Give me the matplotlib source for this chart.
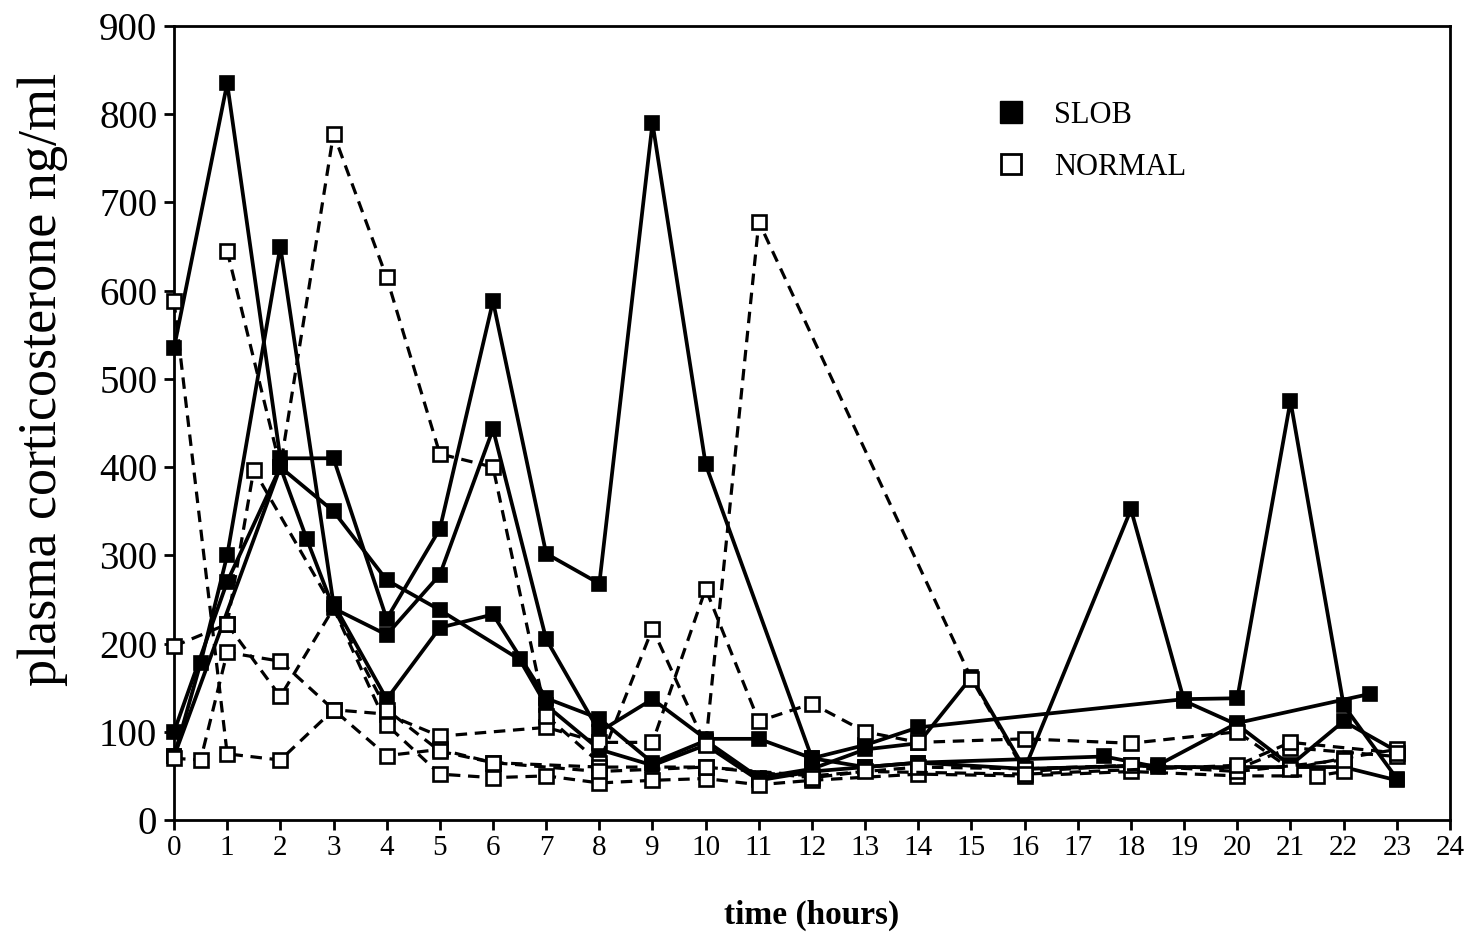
import matplotlib
matplotlib.use("Agg")
import matplotlib.pyplot as plt
from matplotlib.lines import Line2D

plt.rcParams['font.family'] = ['Liberation Serif', 'DejaVu Serif']

# SLOB rats (solid lines, filled squares)
slob1_t = [0, 1, 2, 3, 4, 5, 6, 7, 8, 9, 10, 12, 13, 14, 19, 20, 21, 22, 23]
slob1_v = [535, 835, 410, 410, 228, 330, 588, 302, 268, 790, 403, 70, 85, 105, 137, 138, 475, 130, 47]

slob2_t = [0, 1, 2, 3, 4, 5, 6.5, 7, 8, 9, 10, 11, 12, 13, 14, 16, 18.5, 20, 22.5]
slob2_v = [100, 270, 400, 350, 272, 238, 182, 130, 80, 62, 85, 45, 55, 60, 65, 58, 62, 110, 143]

slob3_t = [0, 0.5, 1, 2, 3, 4, 5, 6, 7, 8, 9, 10, 11, 12, 13, 14, 15, 16, 18, 19, 20, 21, 22, 23]
slob3_v = [72, 178, 300, 650, 245, 137, 218, 233, 138, 115, 65, 90, 48, 58, 80, 87, 162, 58, 352, 135, 108, 62, 112, 78]

slob4_t = [0, 2, 2.5, 3, 4, 5, 6, 7, 8, 9, 10, 11, 12, 13, 14, 17.5, 18.5, 21, 22, 23]
slob4_v = [72, 400, 318, 240, 210, 278, 443, 205, 100, 137, 92, 92, 70, 60, 65, 72, 60, 60, 60, 45]

# NORMAL rats (dashed lines, open squares)
norm1_t = [0, 1, 2, 3, 4, 5, 7, 8, 9, 10, 11, 12, 13, 14, 16, 18, 20, 21, 22, 23]
norm1_v = [588, 75, 68, 125, 120, 95, 105, 88, 88, 262, 112, 132, 100, 88, 92, 87, 100, 58, 70, 80]

norm2_t = [1, 2, 3, 4, 5, 6, 7, 8, 9, 10, 11, 15, 16, 18, 20, 21, 23]
norm2_v = [645, 400, 778, 615, 415, 400, 118, 65, 217, 85, 678, 160, 55, 62, 58, 82, 72]

norm3_t = [0, 1, 2, 3, 4, 5, 6, 7, 8, 9, 10, 11, 12, 14, 16, 18, 20, 21.5, 22]
norm3_v = [197, 222, 140, 240, 108, 52, 48, 50, 42, 45, 47, 40, 45, 52, 50, 55, 50, 50, 55]

norm4_t = [0, 0.5, 1, 2, 3, 4, 5, 6, 8, 10, 12, 14, 16, 18, 20, 22]
norm4_v = [70, 68, 190, 180, 125, 73, 80, 65, 60, 60, 50, 60, 58, 62, 55, 68]

norm5_t = [1, 1.5, 3, 4, 5, 6, 8, 10, 12, 13, 16, 20, 21, 23]
norm5_v = [222, 397, 240, 125, 78, 65, 55, 60, 48, 55, 52, 62, 88, 76]

slob = [(slob1_t, slob1_v), (slob2_t, slob2_v), (slob3_t, slob3_v), (slob4_t, slob4_v)]
normal = [(norm1_t, norm1_v), (norm2_t, norm2_v), (norm3_t, norm3_v),
          (norm4_t, norm4_v), (norm5_t, norm5_v)]

fig = plt.figure(figsize=(14.71, 9.42), dpi=100)
ax = fig.add_axes([0.1183, 0.1295, 0.8674, 0.8429])

for t, v in slob:
    ax.plot(t, v, color='black', lw=2.7, ls='-', marker='s', ms=10.5,
            mfc='black', mec='black', mew=1.2, clip_on=False, zorder=3)

for t, v in normal:
    # open squares hidden under the SLOB squares where they coincide
    shown = [i for i, (x, y) in enumerate(zip(t, v)) if not (x in (2, 3) and 230 < y < 420)]
    ax.plot(t, v, color='black', lw=2.3, ls=(0, (3.6, 2.4)), marker='s', ms=10.5,
            mfc='white', mec='black', mew=1.9, markevery=shown, clip_on=False, zorder=4)

ax.set_xlim(0, 24)
ax.set_ylim(0, 900)
ax.set_xticks(range(0, 25))
ax.set_yticks(range(0, 1000, 100))

for side in ['left', 'right', 'top', 'bottom']:
    ax.spines[side].set_linewidth(2.0)

ax.tick_params(axis='y', direction='out', length=7, width=2.0, labelsize=28, pad=5)
ax.tick_params(axis='x', direction='out', length=7, width=2.0, labelsize=21, pad=4)

ax.set_ylabel('plasma corticosterone ng/ml', fontsize=39)
ax.yaxis.set_label_coords(-0.083, 0.555)
ax.set_xlabel('time (hours)', fontsize=24, fontweight='bold', labelpad=28)

handles = [
    Line2D([], [], ls='none', marker='s', ms=16, mfc='black', mec='black'),
    Line2D([], [], ls='none', marker='s', ms=15, mfc='white', mec='black', mew=2),
]
ax.legend(handles, ['SLOB', 'NORMAL'], loc='center left', bbox_to_anchor=(0.62, 0.855),
          frameon=False, fontsize=22, handletextpad=0.8, labelspacing=0.75,
          handlelength=1.2)

fig.savefig('out.png', dpi=100)
